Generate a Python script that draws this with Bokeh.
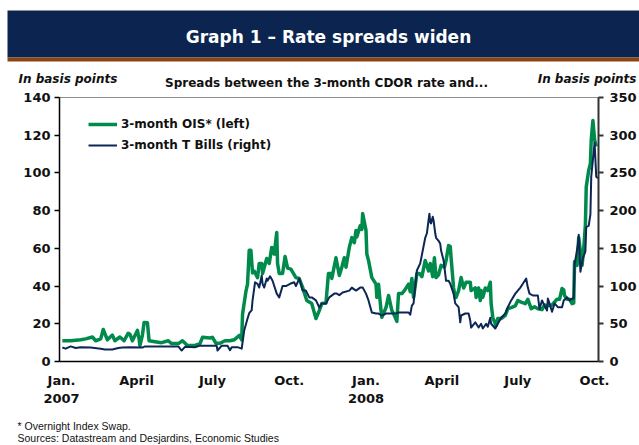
from bokeh.plotting import figure
from bokeh.layouts import column
from bokeh.models import (Range1d, LinearAxis, FixedTicker, BoxAnnotation, Legend, LegendItem)
from bokeh.core.properties import value
from bokeh.embed import file_html
from bokeh.resources import INLINE

# ---- data (days since 1 Jan 2007, basis points) ----
ois_day = [1, 11, 23, 29, 37, 41, 47, 50, 55, 61, 64, 70, 75, 80, 82, 85, 91, 93, 94, 97,
           99, 103, 105, 112, 120, 128, 132, 140, 145, 151, 160, 166, 169, 178, 181, 185, 190, 196, 202, 207,
           213, 216, 217, 221, 223, 225, 227, 229, 231, 235, 237, 240, 241, 246, 249, 252, 255, 258, 259, 261,
           265, 268, 271, 275, 281, 285, 289, 294, 300, 305, 309, 312, 317, 320, 323, 324, 329, 333, 336, 339,
           341, 345, 348, 351, 353, 354, 358, 360, 361, 365, 366, 368, 372, 377, 378, 380, 383, 384, 389, 392,
           396, 398, 402, 404, 408, 411, 416, 418, 420, 422, 426, 429, 432, 436, 440, 442, 445, 447, 449, 452,
           455, 459, 461, 464, 466, 467, 470, 472, 473, 476, 479, 482, 485, 490, 491, 496, 497, 500, 502, 503,
           505, 508, 511, 514, 515, 517, 520, 521, 523, 527, 532, 535, 539, 544, 547, 551, 556, 559, 563, 567,
           571, 576, 579, 583, 588, 594, 597, 600, 602, 603, 606, 609, 612, 614, 615, 618, 620, 624, 626, 628,
           629, 632, 634, 635, 637, 639, 641]
ois_bp = [11, 11, 11.5, 12, 13, 11, 12, 17, 11.5, 14, 11, 13, 11, 15, 14.5, 11, 16.5, 12, 8.5, 14,
          20.7, 20.5, 11, 10.5, 10, 11, 9.5, 9.5, 11, 8.5, 8.5, 9.5, 12.8, 12.5, 12.8, 9.7, 9.7, 11, 11, 11.5,
          13.8, 11.5, 25, 37, 41, 59, 59, 47, 48, 44.5, 52, 52, 46.7, 54.6, 52, 60.5, 57, 68.4, 52, 46.7,
          46.7, 55.7, 49.5, 49, 44.5, 44, 39.3, 32.3, 30.7, 22.8, 27, 30.7, 31, 46.7, 46.7, 44, 55, 45.6, 50, 55,
          50, 60.5, 65.7, 63, 69.5, 66, 72, 70, 78.5, 69.5, 57, 53.6, 44.5, 41, 34, 41, 27, 23.5, 28.6, 35,
          27, 25.4, 21.3, 36, 36, 37.6, 41, 37, 44, 34, 46.7, 46.7, 45, 53.6, 48, 52, 45, 55, 44.5, 46,
          51, 50, 53.6, 61.5, 61, 55, 39, 34, 34, 37.6, 44.5, 39, 42, 42, 37.6, 39, 34, 39, 32.3, 37.6,
          34, 39, 37.6, 42, 30.7, 23.3, 20, 19, 22.8, 22.8, 24.5, 28, 28.6, 29.5, 32.3, 31.5, 30.7, 33, 28, 29,
          28, 27.5, 30, 29.5, 30, 33, 33, 38.7, 38, 35, 33, 33, 30.7, 31, 53, 51, 65.8, 51, 60, 72.6,
          92.5, 101.5, 105, 117.7, 127.8, 117.7, 114]

tbill_day = [1, 5, 11, 17, 23, 35, 47, 52, 61, 68, 73, 82, 97, 100, 112, 124, 140, 144, 148, 160,
             166, 178, 186, 187, 192, 199, 202, 204, 211, 216, 219, 223, 225, 228, 229, 232, 235, 237, 240, 241,
             243, 246, 247, 250, 253, 258, 261, 265, 269, 274, 279, 281, 285, 289, 293, 297, 300, 305, 309, 312,
             317, 321, 327, 330, 333, 337, 345, 348, 353, 358, 361, 365, 368, 372, 377, 380, 384, 389, 396, 401,
             404, 410, 416, 418, 420, 422, 426, 430, 436, 438, 441, 442, 443, 445, 446, 448, 449, 452, 454, 455,
             458, 461, 464, 466, 470, 472, 476, 478, 479, 484, 488, 490, 491, 496, 500, 503, 505, 509, 511, 514,
             515, 520, 523, 527, 532, 535, 539, 544, 550, 553, 557, 559, 561, 565, 571, 573, 576, 579, 582, 583,
             585, 588, 591, 595, 600, 602, 606, 609, 612, 614, 615, 619, 620, 622, 625, 628, 629, 632, 634, 635,
             639, 641, 643]
tbill_bp = [18.5, 17, 20, 18, 19, 18.5, 17, 16, 16, 18, 18.5, 19, 18.5, 20, 20, 20, 20, 14.5, 19.5, 19,
            21, 21, 21, 14.6, 21, 21, 15, 19, 19, 17, 41, 57, 64, 68, 81, 105, 103, 98, 114, 103,
            98, 110, 107, 113, 107, 90, 85, 100, 100, 103, 105, 100, 110, 94, 94, 85, 85, 81, 71.6, 77,
            77, 85, 90, 90, 88, 91.5, 94, 98, 94, 98, 98, 90, 81, 65, 63.6, 63.6, 61, 63.6, 63.6, 64,
            65, 65, 65, 62, 74, 77, 120.7, 130, 164, 170, 196, 185, 183, 192, 187, 170, 164, 160, 156, 147,
            134, 107, 107, 103, 90, 77, 72, 52, 61, 63.6, 63.6, 54, 45, 52, 45, 50, 43.8, 50, 46, 58,
            50, 43.8, 50, 58, 63.6, 72, 81, 90, 98, 103, 110, 98, 90, 87.5, 87.5, 69.6, 81, 74, 67.6, 83.5,
            77, 66, 77, 72, 72, 81, 85, 81, 83.5, 83.5, 128, 155, 168, 119, 137, 146, 178, 180, 195, 245,
            290, 245, 243]

tick_days = [0, 90, 181, 273, 365, 456, 547, 639]
tick_labels = ["Jan.\n2007", "April", "July", "Oct.", "Jan.\n2008", "April", "July", "Oct."]
left_ticks = [0, 20, 40, 60, 80, 100, 120, 140]
right_ticks = [0, 50, 100, 150, 200, 250, 300, 350]

GREEN = "#008a4b"
NAVY = "#0c2656"
BAR = "#0b2550"
BROWN = "#8a4512"
TXT = "#111111"
BOLD = "DejaVu Sans"

W = 639
TOP_H = 89          # header strip
BOT_H = 35          # footnote strip
MAIN_H = 445 - TOP_H - BOT_H

# frame geometry of the main chart (page pixels)
FL, FR, FT, FB = 59, 601, 97, 361


def blank_fig(h):
    f = figure(width=W, height=h, output_backend="svg", toolbar_location=None,
               x_range=Range1d(0, W), y_range=Range1d(h, 0),
               x_axis_location=None, y_axis_location=None,
               min_border=0, min_border_left=0, min_border_right=0,
               min_border_top=0, min_border_bottom=0)
    if hasattr(f, "frame_align"):
        f.frame_align = False
    f.grid.visible = False
    f.outline_line_color = None
    f.background_fill_color = "white"
    f.border_fill_color = "white"
    return f


def put(f, x, y, s, size, style="bold", color=TXT, align="left", font=BOLD):
    f.text(x=[x], y=[y], text=[s], text_font=value(font), text_font_size=size,
           text_font_style=style, text_color=color, text_align=align,
           text_baseline="middle")


# ---- header ----
top = blank_fig(TOP_H)
top.add_layout(BoxAnnotation(left=7, right=W, top=10, bottom=57, fill_color=BAR,
                             fill_alpha=1, line_alpha=0, level="underlay"))
top.add_layout(BoxAnnotation(left=7, right=W, top=57, bottom=61, fill_color=BROWN,
                             fill_alpha=1, line_alpha=0, level="underlay"))
put(top, 328, 36, "Graph 1 \u2013 Rate spreads widen", "17px", color="white", align="center")
put(top, 18, 78, "In basis points", "12px", style="bold italic")
put(top, 636, 78, "In basis points", "12px", style="bold italic", align="right")
put(top, 326, 82, "Spreads between the 3-month CDOR rate and...", "12px", align="center")

# ---- main chart ----
p = figure(width=W, height=MAIN_H, output_backend="svg", toolbar_location=None,
           x_range=Range1d(-2.4, 643.7), y_range=Range1d(0, 140),
           min_border_left=FL, min_border_right=W - FR,
           min_border_top=FT - TOP_H, min_border_bottom=TOP_H + MAIN_H - FB)
if hasattr(p, "frame_align"):
    p.frame_align = False
p.extra_y_ranges = {"right": Range1d(0, 350)}
p.xgrid.visible = False
p.ygrid.visible = False
p.outline_line_color = "#8c8c8c"
p.outline_line_width = 1
p.background_fill_color = "white"
p.border_fill_color = "white"


def style_axis(ax, color="black", width=1.5, tick_out=5, standoff=4):
    ax.axis_line_color = color
    ax.axis_line_width = width
    ax.major_tick_line_color = color
    ax.major_tick_line_width = width
    ax.major_tick_out = tick_out
    ax.major_tick_in = 0
    ax.minor_tick_out = 0
    ax.minor_tick_in = 0
    ax.major_label_standoff = standoff
    ax.major_label_text_font = BOLD
    ax.major_label_text_font_style = "bold"
    ax.major_label_text_font_size = "13px"
    ax.major_label_text_color = TXT


xa = p.xaxis[0]
xa.ticker = FixedTicker(ticks=tick_days)
xa.major_label_overrides = {d: l for d, l in zip(tick_days, tick_labels)}
style_axis(xa, tick_out=0, standoff=11)

ya = p.yaxis[0]
ya.ticker = FixedTicker(ticks=left_ticks)
style_axis(ya, tick_out=5, standoff=4)

ra = LinearAxis(y_range_name="right", ticker=FixedTicker(ticks=right_ticks))
style_axis(ra, color="#333333", width=2, tick_out=5, standoff=6)
p.add_layout(ra, "right")

r1 = p.line(ois_day, ois_bp, line_color=GREEN, line_width=3.5, line_join="round")
r2 = p.line(tbill_day, tbill_bp, line_color=NAVY, line_width=2, line_join="round",
            y_range_name="right")

legend = Legend(items=[LegendItem(label="3-month OIS* (left)", renderers=[r1]),
                       LegendItem(label="3-month T Bills (right)", renderers=[r2])],
                location=(29, 207), padding=0, margin=0, spacing=3,
                glyph_height=18, label_height=18, glyph_width=29, label_standoff=4,
                background_fill_alpha=0, border_line_alpha=0,
                label_text_font=BOLD, label_text_font_style="bold",
                label_text_font_size="12px", label_text_color=TXT)
p.add_layout(legend)

# ---- footnotes ----
bot = blank_fig(BOT_H)
put(bot, 17, 15, "* Overnight Index Swap.", "10.5px", style="normal", font="Liberation Sans")
put(bot, 17, 27, "Sources: Datastream and Desjardins, Economic Studies", "10.5px",
    style="normal", font="Liberation Sans")

layout = column(top, p, bot, spacing=0)
open("out.html", "w").write(file_html(layout, INLINE))
